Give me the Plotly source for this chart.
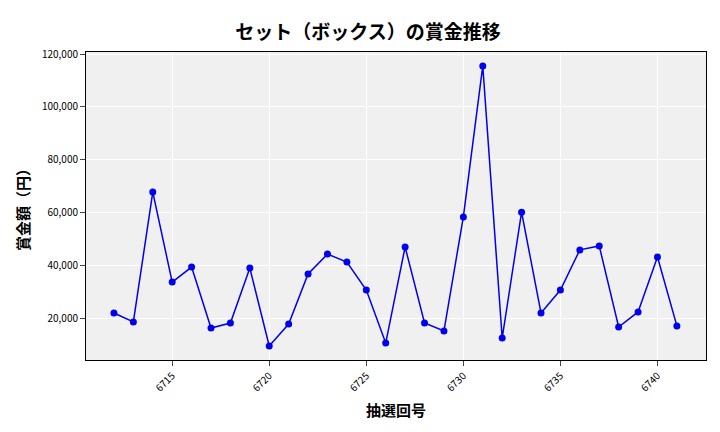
import plotly.graph_objects as go

draws = list(range(6712, 6742))
prizes = [21900, 18500, 67700, 33600, 39300, 16200, 18100, 38900, 9400, 17700,
          36700, 44200, 41200, 30600, 10500, 46900, 18100, 15100, 58300, 115500,
          12400, 60100, 21900, 30600, 45800, 47300, 16600, 22300, 43100, 17000]
xticks = [6715, 6720, 6725, 6730, 6735, 6740]
yticks = [20000, 40000, 60000, 80000, 100000, 120000]

F = "Noto Sans CJK JP"
fig = go.Figure(go.Scatter(x=draws, y=prizes, mode="lines+markers",
                           line=dict(color="#0000ee", width=1.5),
                           marker=dict(color="#0000ee", size=7)))
fig.update_layout(
    width=720, height=432, margin=dict(l=78, r=22, t=44, b=80, autoexpand=False),
    plot_bgcolor="#f0f0f0", paper_bgcolor="white", showlegend=False,
    font=dict(family=F, color="black"),
    title=dict(text="<b>セット（ボックス）の賞金推移</b>", x=0.5, xanchor="center", y=0.96,
               font=dict(size=19, family=F)),
)
fig.update_xaxes(range=[6710.56, 6742.5], tickvals=xticks, tickangle=-45,
                 tickfont=dict(size=10), gridcolor="white", showline=True,
                 linecolor="black", ticks="outside", mirror=True, automargin=False,
                 title=dict(text="<b>抽選回号</b>", font=dict(size=15), standoff=12))
fig.update_yaxes(range=[4090, 120760], tickvals=yticks, tickformat=",",
                 tickfont=dict(size=10), gridcolor="white", showline=True,
                 linecolor="black", ticks="outside", mirror=True, zeroline=False,
                 automargin=False,
                 title=dict(text="<b>賞金額（円）</b>", font=dict(size=15), standoff=8))
fig.write_html("out.html")
